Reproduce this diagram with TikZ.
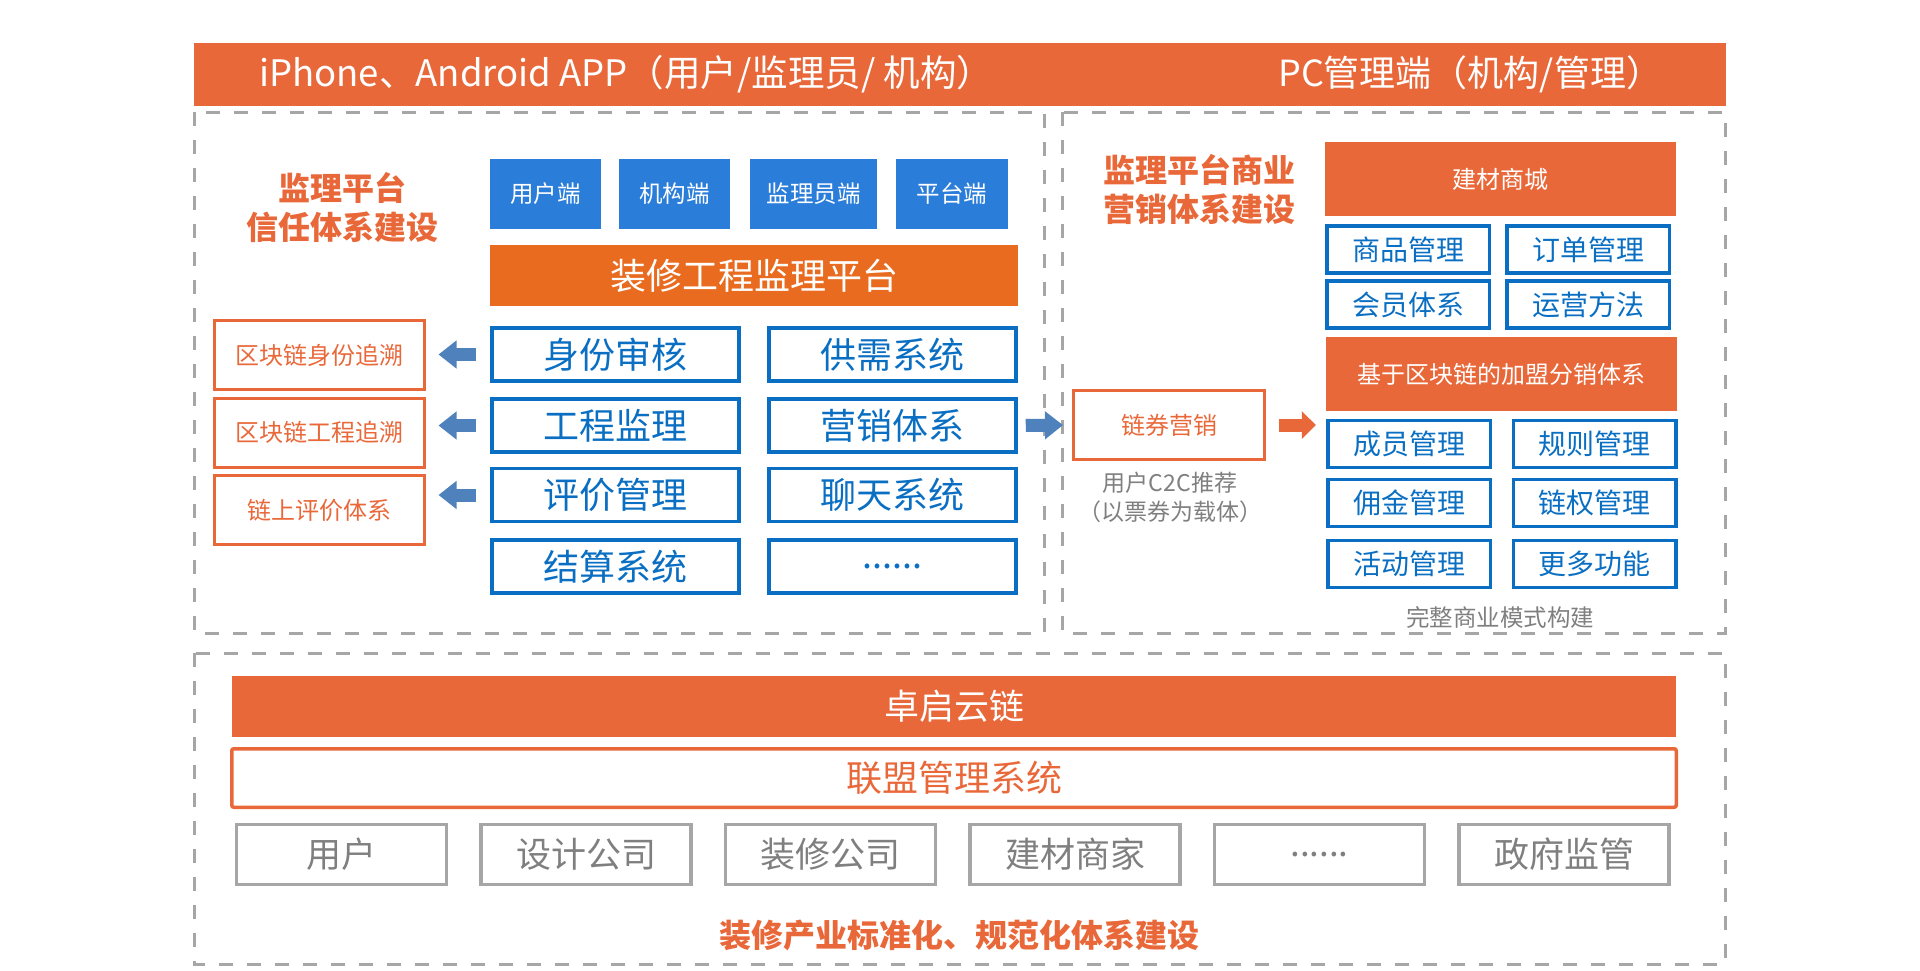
\documentclass[tikz,border=0pt]{standalone}
\usepackage{fontspec}
\setmainfont{Noto Sans CJK SC}
\usetikzlibrary{arrows.meta}

\definecolor{barorange}{HTML}{E9683A}
\definecolor{platorange}{HTML}{E96B1F}
\definecolor{tabblue}{HTML}{2A7DD9}
\definecolor{boxblue}{HTML}{0A6FC2}
\definecolor{arrowblue}{HTML}{4F81BD}
\definecolor{framegray}{HTML}{A6A6A6}
\definecolor{txtgray}{HTML}{7F7F7F}

\newcommand{\sixdots}{......}

\tikzset{
  dashframe/.style={draw=framegray, line width=3pt, dash pattern=on 14pt off 14pt},
  orangebar/.style={fill=barorange, text=white, inner sep=0pt},
  tabbox/.style={fill=tabblue, text=white, inner sep=0pt, minimum height=70pt, font=\fontsize{23.5}{28}\selectfont},
  chainbox/.style={draw=barorange, line width=3pt, text=barorange, minimum width=210pt, minimum height=69pt, inner sep=0pt, font=\fontsize{24}{28}\selectfont},
  sysbox/.style={draw=boxblue, line width=3.5pt, text=boxblue, minimum width=247pt, minimum height=53pt, inner sep=0pt, font=\fontsize{36}{40}\selectfont},
  funcbox/.style={sysbox, minimum width=162.5pt, minimum height=47pt, font=\fontsize{28}{32}\selectfont},
  memberbox/.style={draw=framegray, line width=3.5pt, text=txtgray, minimum width=210pt, minimum height=60pt, inner sep=0pt, font=\fontsize{35}{40}\selectfont},
  titletext/.style={text=barorange, align=center, inner sep=0pt, font=\bfseries\fontsize{32}{39}\selectfont},
  blockarrow/.style={line width=13pt, -{Triangle[length=18pt,width=27pt]}},
}

\begin{document}
\begin{tikzpicture}[x=1pt, y=-1pt]
  \useasboundingbox (0,0) rectangle (1920,970);

  % Top bar
  \node[orangebar, minimum width=1532pt, minimum height=63pt] (topbar) at (960,74.5) {};
  \node[text=white, anchor=west, inner sep=0pt, font=\fontsize{36.5}{40}\selectfont] (apptxt) at (259,74.5) {iPhone、Android APP（用户/监理员/ 机构）};
  \node[text=white, anchor=west, inner sep=0pt, font=\fontsize{36}{40}\selectfont] (pctxt) at (1278,74.5) {PC管理端（机构/管理）};

  % Dashed frames
  \draw[dashframe] (194,112) rectangle (1044,633);
  \draw[dashframe] (1062,112) rectangle (1725,633);
  \draw[dashframe] (194,653) rectangle (1725,964);

  % Left part: supervision platform
  \node[titletext] (trusttitle) at (342,207.5) {监理平台\\信任体系建设};

  \node[tabbox, minimum width=111pt] (usertab) at (545.5,194) {用户端};
  \node[tabbox, minimum width=111pt] (orgtab) at (674.5,194) {机构端};
  \node[tabbox, minimum width=127pt] (supertab) at (813.5,194) {监理员端};
  \node[tabbox, minimum width=112pt] (plattab) at (952,194) {平台端};

  \node[fill=platorange, text=white, minimum width=528pt, minimum height=61pt, inner sep=0pt, font=\fontsize{36}{40}\selectfont] (platform) at (754,275.5) {装修工程监理平台};

  \node[sysbox] (sfsh) at (615.5,354.5) {身份审核};
  \node[sysbox] (gcjl) at (615.5,425.5) {工程监理};
  \node[sysbox] (pjgl) at (615.5,495) {评价管理};
  \node[sysbox] (jsxt) at (615.5,566.5) {结算系统};
  \node[sysbox] (gxxt) at (892.5,354.5) {供需系统};
  \node[sysbox] (yxtx) at (892.5,425.5) {营销体系};
  \node[sysbox] (ltxt) at (892.5,495) {聊天系统};
  \node[sysbox] (more) at (892.5,566.5) {\sixdots};

  \node[chainbox] (sfzs) at (319,355) {区块链身份追溯};
  \node[chainbox] (gczs) at (319,432.5) {区块链工程追溯};
  \node[chainbox] (pjtx) at (319,510) {链上评价体系};

  \draw[blockarrow, arrowblue, shorten <=14pt, shorten >=13pt] (sfsh.west) -- (sfsh.west -| sfzs.east);
  \draw[blockarrow, arrowblue, shorten <=14pt, shorten >=13pt] (gcjl.west) -- (gcjl.west -| gczs.east);
  \draw[blockarrow, arrowblue, shorten <=14pt, shorten >=13pt] (pjgl.west) -- (pjgl.west -| pjtx.east);

  % Right part: marketing
  \node[titletext] (markettitle) at (1199,189) {监理平台商业\\营销体系建设};

  \node[orangebar, minimum width=351pt, minimum height=74pt, font=\fontsize{24}{28}\selectfont] (jcsc) at (1500.5,179) {建材商城};
  \node[funcbox] (spgl) at (1408,249.5) {商品管理};
  \node[funcbox] (ddgl) at (1588,249.5) {订单管理};
  \node[funcbox] (hytx) at (1408,304.5) {会员体系};
  \node[funcbox] (yyff) at (1588,304.5) {运营方法};

  \node[orangebar, minimum width=351pt, minimum height=74pt, font=\fontsize{24}{28}\selectfont] (jmfx) at (1501.5,374) {基于区块链的加盟分销体系};
  \node[funcbox] (cygl) at (1409,444) {成员管理};
  \node[funcbox] (gzgl) at (1594.5,444) {规则管理};
  \node[funcbox] (yjgl) at (1409,503) {佣金管理};
  \node[funcbox] (lqgl) at (1594.5,503) {链权管理};
  \node[funcbox] (hdgl) at (1409,564) {活动管理};
  \node[funcbox] (gdgn) at (1594.5,564) {更多功能};
  \node[text=txtgray, inner sep=0pt, font=\fontsize{23.5}{28}\selectfont] (mode) at (1500,617) {完整商业模式构建};

  \node[chainbox, minimum width=191pt] (lqyx) at (1169,425) {链券营销};
  \node[text=txtgray, align=center, inner sep=0pt, font=\fontsize{23}{29}\selectfont] (c2c) at (1170,497.5) {用户C2C推荐\\（以票券为载体）};

  \draw[blockarrow, arrowblue, shorten <=8pt, shorten >=9pt] (yxtx.east) -- (lqyx.west);
  \draw[blockarrow, barorange, -{Triangle[length=14pt,width=27pt]}, shorten <=13pt, shorten >=10pt] (lqyx.east) -- (lqyx.east -| jmfx.west);

  % Bottom part: alliance chain
  \node[orangebar, minimum width=1444pt, minimum height=61pt, font=\fontsize{35}{40}\selectfont] (zqyl) at (954,706.5) {卓启云链};
  \node[draw=barorange, line width=3.5pt, rounded corners=2pt, text=barorange, minimum width=1444.5pt, minimum height=58.5pt, inner sep=0pt, font=\fontsize{36}{40}\selectfont] (lmgl) at (954,778) {联盟管理系统};

  \foreach \name/\txt [count=\i from 0] in {yh/用户, sjgs/设计公司, zxgs/装修公司, jcsj/建材商家, dots/\sixdots, zfjg/政府监管}
    \node[memberbox] (\name) at (341.5+244.5*\i,854.5) {\txt};

  \node[titletext] (stdtitle) at (959,935) {装修产业标准化、规范化体系建设};
\end{tikzpicture}
\end{document}
